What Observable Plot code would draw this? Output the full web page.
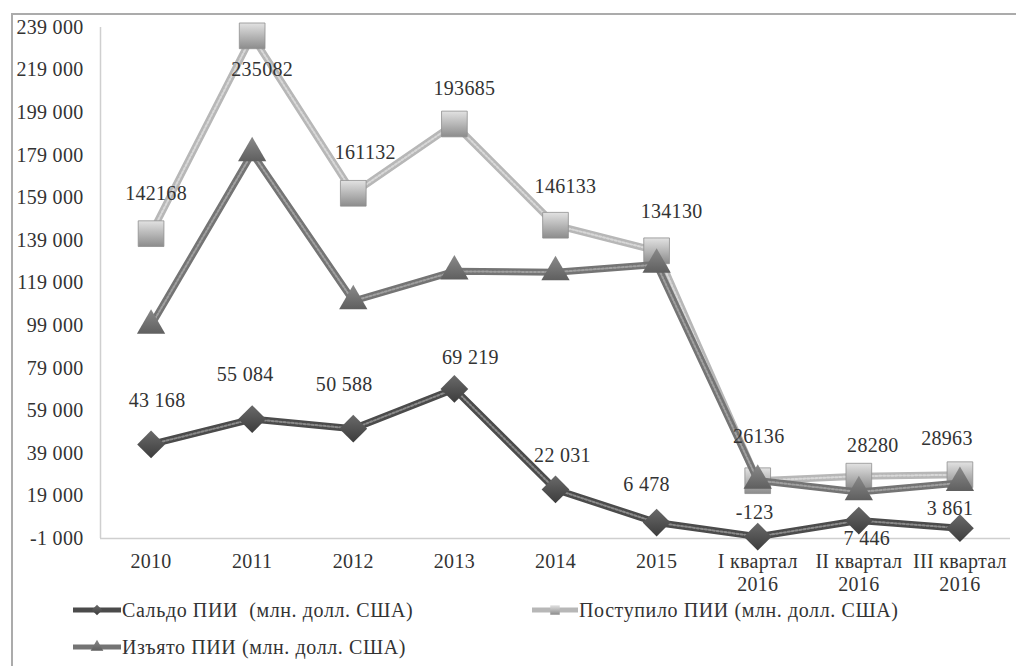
<!DOCTYPE html>
<html><head><meta charset="utf-8">
<script src="https://cdn.jsdelivr.net/npm/d3@7"></script>
<script src="https://cdn.jsdelivr.net/npm/@observablehq/plot@0.6"></script>
<style>
body{margin:0;background:#fff;}
#wrap{position:relative;width:1016px;height:666px;overflow:hidden;background:#fff;font-family:"Liberation Serif","Times New Roman",serif;}
#frame{position:absolute;left:11px;top:13px;width:1020px;height:670px;border-top:2px solid #ababab;border-left:2px solid #ababab;}
#chart{position:absolute;left:0;top:0;}
#legend{position:absolute;left:0;top:590px;}
</style></head><body>
<div id="wrap"><div id="frame"></div><div id="chart"></div><div id="legend"></div></div>
<script>
// ---- data ----
const categories = ["2010","2011","2012","2013","2014","2015","I квартал\n2016","II квартал\n2016","III квартал\n2016"];
const saldo   = [43168, 55084, 50588, 69219, 22031, 6478, -123, 7446, 3861];
const inflow  = [142168, 235082, 161132, 193685, 146133, 134130, 26136, 28280, 28963];
const outflow = [99000, 179998, 110544, 124466, 124102, 127652, 26259, 20834, 25102];
const saldoLabels  = ["43 168","55 084","50 588","69 219","22 031","6 478","-123","7 446","3 861"];
const inflowLabels = ["142168","235082","161132","193685","146133","134130","26136","28280","28963"];
const yTicks = d3.range(-1000, 239001, 20000);
const seriesNames = ["Сальдо ПИИ  (млн. долл. США)", "Поступило ПИИ (млн. долл. США)", "Изъято ПИИ (млн. долл. США)"];

// ---- label placement (styling) ----
const inflowDx = [5, 10, 12, 10, 10, 15, 1, 14, -13];
const inflowDy = [-40, 34, -41, -35, -39, -39, -44, -31, -36];
const saldoDx  = [6, -7, -9, 16, 7, -10, -3, 8, -10];
const saldoDy  = [-44, -44, -44, -31, -34, -38, -24, 18, -20];

const FONT = "'Liberation Serif','Times New Roman',serif";
const TXT = "#333";
const idx = d3.range(categories.length);
const fmt = d3.formatLocale({decimal: ",", thousands: " ", grouping: [3], currency: ["", ""], minus: "-"}).format(",");

const C = {
  saldoLine: "#4b4b4b", saldoTex: "#8a8a8a",
  inLine: "#b7b7b7", inTex: "#d8d8d8",
  outLine: "#747474", outTex: "#a0a0a0"
};

function labelMarks(values, labels, dxs, dys) {
  return idx.map(i => Plot.text([i], {
    x: d => d, y: () => values[i], text: () => labels[i],
    dx: dxs[i], dy: dys[i], fontSize: 20, fill: TXT, textAnchor: "middle"
  }));
}

const chart = Plot.plot({
  width: 1016, height: 590,
  marginLeft: 100, marginRight: 6, marginTop: 27, marginBottom: 52,
  x: {type: "linear", domain: [-0.5, categories.length - 0.5], axis: null},
  y: {domain: [-1000, 239000], axis: null},
  style: {fontFamily: FONT, fontSize: "20px", color: TXT, background: "transparent", overflow: "visible", letterSpacing: "0.3px"},
  marks: [
    Plot.ruleX([-0.5], {stroke: "#cfcfcf", strokeWidth: 1.5}),
    Plot.ruleY([-1000], {stroke: "#cfcfcf", strokeWidth: 1.5}),
    Plot.text(yTicks, {y: d => d, text: d => fmt(d), frameAnchor: "left", dx: -17, textAnchor: "end", fontSize: 20, fill: TXT}),
    Plot.text(idx, {x: d => d, text: d => categories[d], frameAnchor: "bottom", dy: 13, lineAnchor: "top", lineHeight: 1.15, fontSize: 20, fill: TXT}),
    // inflow
    Plot.line(idx, {x: d => d, y: d => inflow[d], stroke: C.inLine, strokeWidth: 7, strokeLinejoin: "round"}),
    Plot.line(idx, {x: d => d, y: d => inflow[d], stroke: C.inTex, strokeWidth: 2, strokeDasharray: "2 2"}),
    Plot.dot(idx, {x: d => d, y: d => inflow[d], symbol: "square", r: 14.5, fill: "url(#gSq)", stroke: "#8f8f8f", strokeWidth: 0.8}),
    // outflow
    Plot.line(idx, {x: d => d, y: d => outflow[d], stroke: C.outLine, strokeWidth: 7, strokeLinejoin: "round"}),
    Plot.line(idx, {x: d => d, y: d => outflow[d], stroke: C.outTex, strokeWidth: 2, strokeDasharray: "2 2"}),
    Plot.dot(idx, {x: d => d, y: d => outflow[d], symbol: "triangle", r: 10.5, fill: "url(#gTri)", stroke: "none"}),
    // saldo
    Plot.line(idx, {x: d => d, y: d => saldo[d], stroke: C.saldoLine, strokeWidth: 7, strokeLinejoin: "round"}),
    Plot.line(idx, {x: d => d, y: d => saldo[d], stroke: C.saldoTex, strokeWidth: 2, strokeDasharray: "2 2"}),
    Plot.dot(idx, {x: d => d, y: d => saldo[d], symbol: "diamond2", r: 12.5, fill: "url(#gDia)", stroke: "none"}),
    ...labelMarks(inflow, inflowLabels, inflowDx, inflowDy),
    ...labelMarks(saldo, saldoLabels, saldoDx, saldoDy)
  ]
});

function addDefs(svgSel) {
  const defs = svgSel.insert("defs", ":first-child");
  const grads = [
    ["gSq", "#e2e2e2", "#8c8c8c"],
    ["gTri", "#8a8a8a", "#5f5f5f"],
    ["gDia", "#6a6a6a", "#3c3c3c"]
  ];
  for (const [id, a, b] of grads) {
    const g = defs.append("linearGradient").attr("id", id).attr("x1", 0).attr("y1", 0).attr("x2", 0).attr("y2", 1);
    g.append("stop").attr("offset", "0%").attr("stop-color", a);
    g.append("stop").attr("offset", "100%").attr("stop-color", b);
  }
}
addDefs(d3.select(chart));
document.getElementById("chart").appendChild(chart);

// ---- legend ----
const leg = d3.select("#legend").append("svg").attr("width", 1016).attr("height", 76)
  .style("font-family", FONT).style("font-size", "20px").style("letter-spacing", "0.6px");
addDefs(leg);
const entries = [
  {name: seriesNames[0], x1: 73, x2: 121, y: 20, line: C.saldoLine, sym: d3.symbolDiamond2, size: 70, fill: "url(#gDia)"},
  {name: seriesNames[1], x1: 532, x2: 578, y: 20, line: C.inLine, sym: d3.symbolSquare, size: 90, fill: "url(#gSq)"},
  {name: seriesNames[2], x1: 73, x2: 121, y: 57, line: C.outLine, sym: d3.symbolTriangle, size: 70, fill: "url(#gTri)"}
];
for (const e of entries) {
  leg.append("line").attr("x1", e.x1).attr("x2", e.x2).attr("y1", e.y).attr("y2", e.y)
    .attr("stroke", e.line).attr("stroke-width", 5);
  leg.append("path").attr("d", d3.symbol(e.sym, e.size)()).attr("transform", `translate(${(e.x1 + e.x2) / 2},${e.y})`)
    .attr("fill", e.fill);
  leg.append("text").attr("x", e.x2 + 1).attr("y", e.y).attr("dy", "0.35em").attr("fill", TXT)
    .style("white-space", "pre").text(e.name);
}
</script>
</body></html>
